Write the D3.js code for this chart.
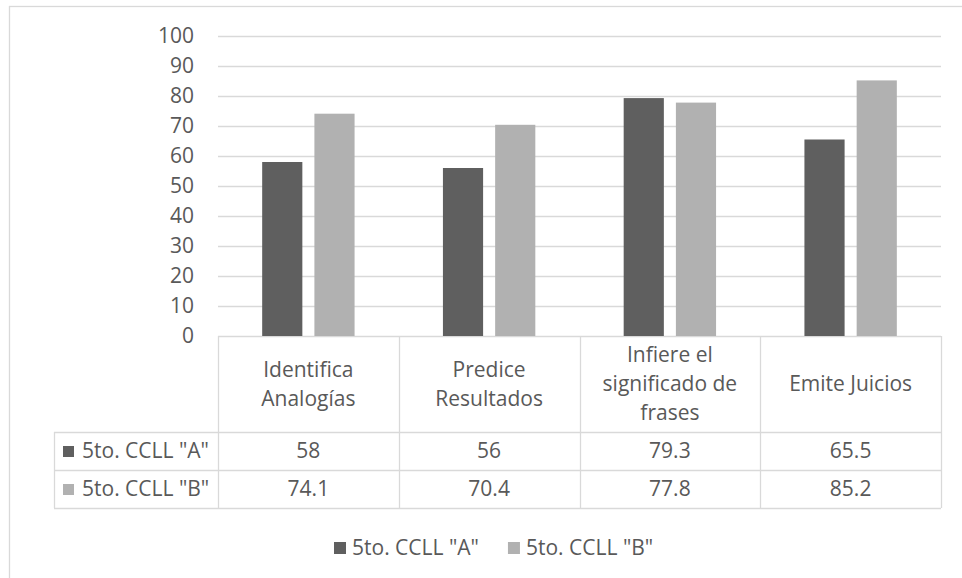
<!DOCTYPE html>
<html>
<head>
<meta charset="utf-8">
<script src="https://cdn.jsdelivr.net/npm/d3@7"></script>
<style>
  html, body { margin: 0; padding: 0; background: #fff; }
  svg { display: block; }
  text { font-family: "Open Sans", sans-serif; fill: #595959; }
</style>
</head>
<body>
<svg id="chart" width="962" height="578"></svg>
<script>
const categories = ["Identifica Analogías", "Predice Resultados", "Infiere el significado de frases", "Emite Juicios"];
const categoryLines = [["Identifica", "Analogías"], ["Predice", "Resultados"], ["Infiere el", "significado de", "frases"], ["Emite Juicios"]];
const seriesNames = ['5to. CCLL "A"', '5to. CCLL "B"'];
const valuesA = [58, 56, 79.3, 65.5];
const valuesB = [74.1, 70.4, 77.8, 85.2];
const valueLabelsA = ["58", "56", "79.3", "65.5"];
const valueLabelsB = ["74.1", "70.4", "77.8", "85.2"];
const yTicks = [0, 10, 20, 30, 40, 50, 60, 70, 80, 90, 100];
const colors = ["#5f5f5f", "#b1b1b1"];

const svg = d3.select("#chart");
const gridColor = "#d9d9d9";
const fs = 21;

const plotLeft = 218, plotRight = 941, plotTop = 36, plotBottom = 336;
const tableLeft = 54;
const headerBottom = 432, rowH = 38;

// outer border
svg.append("rect").attr("x", 9.5).attr("y", 6.5).attr("width", 1000).attr("height", 1000)
  .attr("fill", "none").attr("stroke", gridColor).attr("stroke-width", 1.3);

const x = d3.scaleBand().domain(categories).range([plotLeft, plotRight]).paddingInner(0).paddingOuter(0);
const xs = d3.scaleBand().domain(seriesNames).range([0, x.bandwidth()]).paddingInner(0.2308).paddingOuter(0.846);
const y = d3.scaleLinear().domain([0, 100]).range([plotBottom, plotTop]);

// gridlines
svg.append("g").selectAll("line").data(yTicks).join("line")
  .attr("x1", plotLeft).attr("x2", plotRight)
  .attr("y1", d => Math.round(y(d)) + 0.5).attr("y2", d => Math.round(y(d)) + 0.5)
  .attr("stroke", gridColor).attr("stroke-width", 1.3);

// y labels
svg.append("g").selectAll("text").data(yTicks).join("text")
  .attr("x", 194).attr("y", d => y(d)).attr("dy", "0.35em")
  .attr("text-anchor", "end").attr("font-size", fs).text(d => d);

// bars
const seriesVals = [valuesA, valuesB];
seriesVals.forEach((vals, si) => {
  svg.append("g").selectAll("rect").data(vals).join("rect")
    .attr("x", (d, i) => x(categories[i]) + xs(seriesNames[si]))
    .attr("width", xs.bandwidth())
    .attr("y", d => y(d))
    .attr("height", d => y(0) - y(d))
    .attr("fill", colors[si]);
});

// table lines
const tg = svg.append("g").attr("stroke", gridColor).attr("stroke-width", 1.3);
const tableBottom = headerBottom + 2 * rowH;
const colEdges = categories.map(c => x(c)).concat([plotRight]);
colEdges.forEach(cx => {
  tg.append("line").attr("x1", Math.round(cx) + 0.5).attr("x2", Math.round(cx) + 0.5)
    .attr("y1", plotBottom).attr("y2", tableBottom);
});
tg.append("line").attr("x1", tableLeft + 0.5).attr("x2", tableLeft + 0.5).attr("y1", headerBottom).attr("y2", tableBottom);
[headerBottom, headerBottom + rowH, tableBottom].forEach(yy => {
  tg.append("line").attr("x1", tableLeft).attr("x2", plotRight).attr("y1", yy + 0.5).attr("y2", yy + 0.5);
});

// header text
const lineH = 29;
categoryLines.forEach((lines, i) => {
  const cx = x(categories[i]) + x.bandwidth() / 2;
  const cy = (plotBottom + headerBottom) / 2;
  const t = svg.append("text").attr("text-anchor", "middle").attr("font-size", fs);
  lines.forEach((ln, j) => {
    t.append("tspan").attr("x", cx).attr("y", cy + (j - (lines.length - 1) / 2) * lineH).attr("dy", "0.35em").text(ln);
  });
});

// value rows
const valueLabels = [valueLabelsA, valueLabelsB];
valueLabels.forEach((labs, si) => {
  const cy = headerBottom + rowH * si + rowH / 2;
  svg.append("g").selectAll("text").data(labs).join("text")
    .attr("x", (d, i) => x(categories[i]) + x.bandwidth() / 2)
    .attr("y", cy).attr("dy", "0.35em").attr("text-anchor", "middle").attr("font-size", fs).text(d => d);
  svg.append("rect").attr("x", 63).attr("y", cy - 5).attr("width", 11).attr("height", 11).attr("fill", colors[si]);
  svg.append("text").attr("x", 82).attr("y", cy).attr("dy", "0.35em").attr("font-size", fs).text(seriesNames[si]);
});

// legend
const lg = svg.append("g");
let lx = 334;
const ly = 548;
seriesNames.forEach((name, si) => {
  lg.append("rect").attr("x", lx).attr("y", ly - 6).attr("width", 12).attr("height", 12).attr("fill", colors[si]);
  const t = lg.append("text").attr("x", lx + 18).attr("y", ly).attr("dy", "0.35em").attr("font-size", fs).text(name);
  lx = lx + 18 + t.node().getComputedTextLength() + 29;
});
</script>
</body>
</html>
